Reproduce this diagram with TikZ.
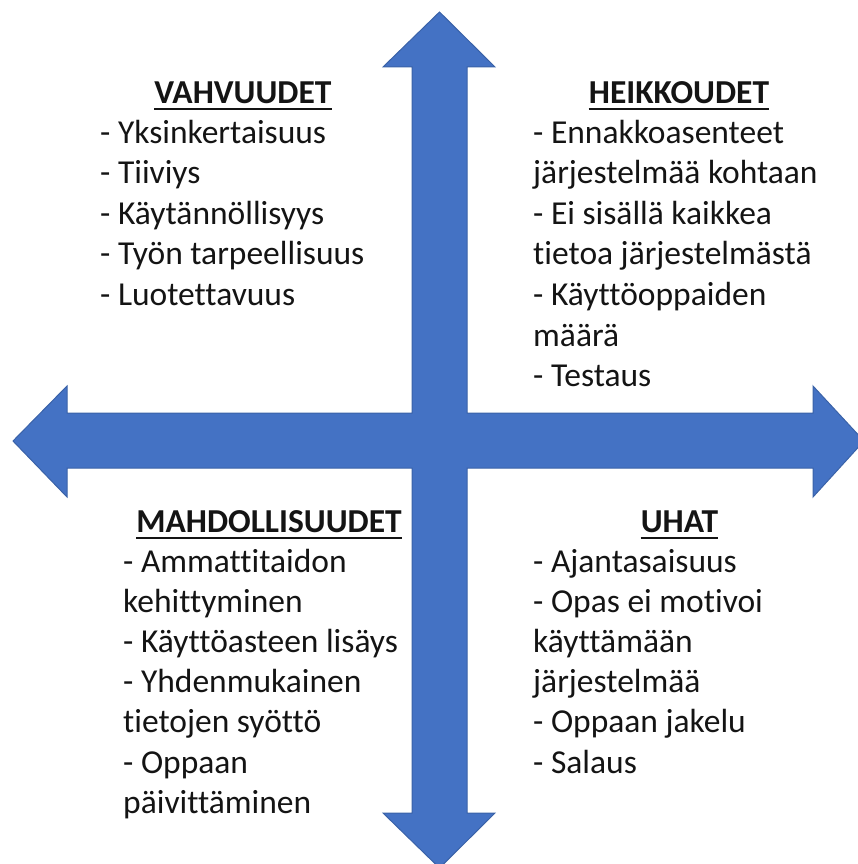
\documentclass[tikz,border=0pt]{standalone}
\usepackage{fontspec}
\setmainfont{Carlito}[Ligatures=NoCommon]
\definecolor{arrowfill}{HTML}{4472C4}
\definecolor{arrowline}{HTML}{3A62A8}
\definecolor{txt}{HTML}{141414}
\begin{document}
\begin{tikzpicture}[x=1pt,y=-1pt,
  item/.style={anchor=base west,inner sep=0pt,text=txt,font=\fontsize{33.5}{40}\selectfont},
  title/.style={anchor=base,inner sep=0pt,text=txt,font=\fontsize{33.5}{40}\selectfont\bfseries},
  uline/.style={draw=txt,line width=2pt}]
\useasboundingbox (0,0) rectangle (858,864);
% four-way arrow
\draw[fill=arrowfill,draw=arrowline,line width=1pt,line join=miter]
  (439.5,12) -- (495,67) -- (467,67) -- (467,413) -- (813,413) -- (813,386)
  -- (864,441) -- (813,497) -- (813,468) -- (467,468) -- (467,813) -- (495,813)
  -- (439.5,868) -- (383,813) -- (412,813) -- (412,468) -- (67,468) -- (67,497)
  -- (13,441) -- (67,386) -- (67,413) -- (412,413) -- (412,67) -- (383,67) -- cycle;
% titles
\node[title] (t1) at (243,103) {VAHVUUDET};
\node[title] (t2) at (679,103) {HEIKKOUDET};
\node[title] (t3) at (269,532) {MAHDOLLISUUDET};
\node[title] (t4) at (679.5,532) {UHAT};
\foreach \n in {t1,t2,t3,t4}
  \draw[uline] ([yshift=-6pt]\n.base west) -- ([yshift=-6pt]\n.base east);
% items
\foreach \t [count=\i] in {- Yksinkertaisuus,- Tiiviys,- Käytännöllisyys,- Työn tarpeellisuus,- Luotettavuus}
  \node[item] (a\i) at (100,{143+40.6*(\i-1)}) {\t};
\foreach \t [count=\i] in {- Ennakkoasenteet,järjestelmää kohtaan,- Ei sisällä kaikkea,tietoa järjestelmästä,- Käyttöoppaiden,määrä,- Testaus}
  \node[item] (b\i) at (533,{143+40.6*(\i-1)}) {\t};
\foreach \t [count=\i] in {- Ammattitaidon,kehittyminen,- Käyttöasteen lisäys,- Yhdenmukainen,tietojen syöttö,- Oppaan,päivittäminen}
  \node[item] (c\i) at (123,{572+40.2*(\i-1)}) {\t};
\foreach \t [count=\i] in {- Ajantasaisuus,- Opas ei motivoi,käyttämään,järjestelmää,- Oppaan jakelu,- Salaus}
  \node[item] (d\i) at (533,{572+40.2*(\i-1)}) {\t};
\end{tikzpicture}
\end{document}
